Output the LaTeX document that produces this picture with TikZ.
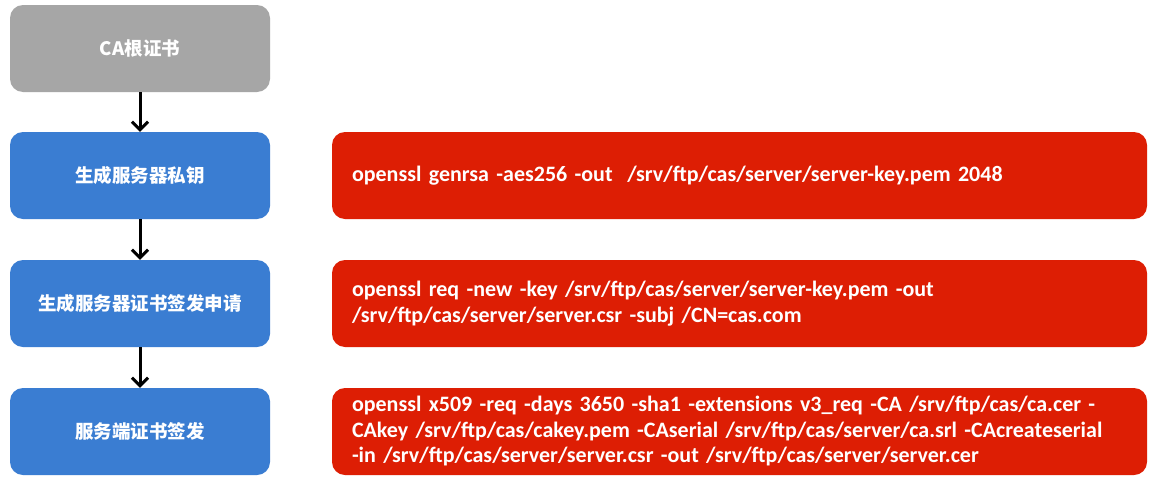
\documentclass[tikz,border=0pt]{standalone}
\usepackage{fontspec}
\setmainfont{Carlito}
\newfontfamily\cjk{Noto Sans CJK SC}
\usetikzlibrary{arrows.meta}
\definecolor{boxgray}{RGB}{166,166,166}
\definecolor{boxblue}{RGB}{58,125,210}
\definecolor{boxred}{RGB}{221,30,4}
\begin{document}
\begin{tikzpicture}[x=1pt,y=-1pt,
  base/.style={rounded corners=13pt,minimum height=87pt,inner sep=0pt,text=white,font=\bfseries},
  stepbox/.style={base,fill=boxblue,minimum width=260pt,font=\cjk\bfseries\fontsize{18.5}{22}\selectfont},
  rootbox/.style={stepbox,fill=boxgray},
  cmdbox/.style={base,fill=boxred,minimum width=815pt,text width=790pt,align=left,font=\bfseries\fontsize{22}{25.5}\selectfont},
  flow/.style={line width=3pt,-{Straight Barb[length=8pt,width=16pt,line width=3pt]}}]
\useasboundingbox (0,0) rectangle (1151,482);
\fill[white] (0,0) rectangle (1151,482);
\node[rootbox] (ca) at (140,48.5) {CA根证书};
\node[stepbox] (key) at (140,175.5) {生成服务器私钥};
\node[stepbox] (csr) at (140,303.5) {生成服务器证书签发申请};
\node[stepbox] (sign) at (140,431.5) {服务端证书签发};
\node[cmdbox,text width=775pt] (c1) at (739.5,175.5) {openssl genrsa -aes256 -out\ \ /srv/ftp/cas/server/server-key.pem 2048};
\node[cmdbox,text width=775pt] (c2) at (739.5,303.5) {openssl req -new -key /srv/ftp/cas/server/server-key.pem -out\\/srv/ftp/cas/server/server.csr -subj /CN=cas.com};
\node[cmdbox,text width=775pt] (c3) at (739.5,431.5) {openssl x509 -req -days 3650 -sha1 -extensions v3\_req -CA /srv/ftp/cas/ca.cer -\\CAkey /srv/ftp/cas/cakey.pem -CAserial /srv/ftp/cas/server/ca.srl -CAcreateserial\\-in /srv/ftp/cas/server/server.csr -out /srv/ftp/cas/server/server.cer};
\draw[flow] (ca) -- (key);
\draw[flow] (key) -- (csr);
\draw[flow] (csr) -- (sign);
\end{tikzpicture}
\end{document}
